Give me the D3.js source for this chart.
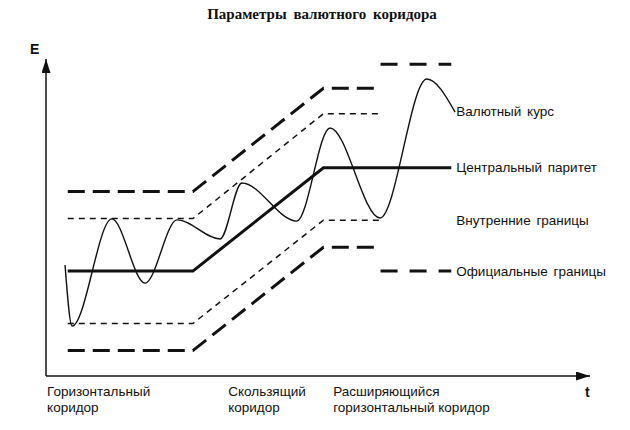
<!DOCTYPE html>
<html>
<head>
<meta charset="utf-8">
<script src="https://cdn.jsdelivr.net/npm/d3@7"></script>
<style>
  body { margin: 0; background: #fff; }
  svg { display: block; }
  text { font-family: "Liberation Sans", Arial, sans-serif; fill: #111; }
</style>
</head>
<body>
<svg id="chart" width="630" height="430"></svg>
<script>
// time (t) and rate (E) in arbitrary units
const regimeT = [4, 27, 51, 61.5, 74.5]
const parity = [33, 33, 65.5, 65.5]
const officialUpper = [58, 58, 90.5, 90.5]
const officialLower = [8, 8, 40.5, 40.5]
const innerUpper = [49.5, 49.5, 82.5, 82.5]
const innerLower = [16.5, 16.5, 49, 49]
const widenedOfficial = [98, 33] // third regime, upper and lower

const rateT = [3.5, 4.8, 12.1, 18.2, 24.1, 32.0, 36.0, 46.1, 52.2, 61.4, 70.0, 75.2]
const rateE = [34.9, 15.7, 49.4, 29.2, 49.1, 43.1, 60.7, 48.7, 78.0, 49.7, 93.4, 83.0]

const seriesLabels = ["Валютный курс", "Центральный паритет", "Внутренние границы", "Официальные границы"]
const seriesLabelE = [83.3, 65.5, 49, 33]
const regimeLabels = [["Горизонтальный", "коридор"], ["Скользящий", "коридор"], ["Расширяющийся", "горизонтальный  коридор"]]
const regimeLabelT = [0.2, 33.5, 52.8]

const svg = d3.select("#chart")
const x = d3.scaleLinear().domain([0, 100]).range([46, 590])
const y = d3.scaleLinear().domain([0, 100]).range([376, 58])

svg.append("text")
    .attr("x", 322).attr("y", 19)
    .attr("text-anchor", "middle")
    .style("font-family", "'Liberation Serif', 'Times New Roman', serif")
    .style("font-weight", "bold")
    .style("font-size", "15px")
    .style("word-spacing", "3px")
    .text("Параметры валютного коридора")

// arrow heads
const defs = svg.append("defs")
defs.append("marker")
    .attr("id", "arrow")
    .attr("viewBox", "0 0 14 9")
    .attr("refX", 14).attr("refY", 4.5)
    .attr("markerWidth", 14).attr("markerHeight", 9)
    .attr("markerUnits", "userSpaceOnUse")
    .attr("orient", "auto")
    .append("path").attr("d", "M0,0 L14,4.5 L0,9 Z").attr("fill", "#111")

const axisG = svg.append("g")
axisG.append("path")
    .attr("d", `M${x(0)},${y(0)} V${y(100) + 1}`)
    .attr("stroke", "#111").attr("stroke-width", 1.5).attr("fill", "none")
    .attr("marker-end", "url(#arrow)")
axisG.append("path")
    .attr("d", `M${x(0)},${y(0)} H${x(100)}`)
    .attr("stroke", "#111").attr("stroke-width", 1.5).attr("fill", "none")
    .attr("marker-end", "url(#arrow)")

axisG.append("text")
    .attr("x", x(0) - 16).attr("y", y(100) - 4)
    .style("font-weight", "bold").style("font-size", "14px")
    .text("E")
axisG.append("text")
    .attr("x", x(100) - 5).attr("y", y(0) + 21)
    .style("font-weight", "bold").style("font-size", "14px")
    .text("t")

const line = d3.line().x(d => x(d[0])).y(d => y(d[1]))
const corridor = vals => vals.map((v, i) => [regimeT[i], v])

const bands = [
    { vals: officialUpper, width: 3, dash: "17,8" },
    { vals: officialLower, width: 3, dash: "17,8" },
    { vals: innerUpper, width: 1.5, dash: "6,5" },
    { vals: innerLower, width: 1.5, dash: "6,5" }
]
svg.append("g").selectAll("path")
    .data(bands)
    .join("path")
    .attr("d", d => line(corridor(d.vals)))
    .attr("fill", "none")
    .attr("stroke", "#111")
    .attr("stroke-width", d => d.width)
    .attr("stroke-dasharray", d => d.dash)

svg.append("g").selectAll("path")
    .data(widenedOfficial)
    .join("path")
    .attr("d", d => line([[regimeT[3], d], [regimeT[4], d]]))
    .attr("fill", "none")
    .attr("stroke", "#111")
    .attr("stroke-width", 3)
    .attr("stroke-dasharray", "17,12")

// central parity: flat, sliding, then flat to the end of the third regime
const parityPts = [[regimeT[0], parity[0]], [regimeT[1], parity[1]], [regimeT[2], parity[2]], [regimeT[4], parity[3]]]
svg.append("path")
    .attr("d", line(parityPts))
    .attr("fill", "none")
    .attr("stroke", "#111")
    .attr("stroke-width", 3)

const rateLine = d3.line().x(d => x(d[0])).y(d => y(d[1])).curve(d3.curveMonotoneX)
svg.append("path")
    .attr("d", rateLine(rateT.map((t, i) => [t, rateE[i]])))
    .attr("fill", "none")
    .attr("stroke", "#111")
    .attr("stroke-width", 1.4)

svg.append("g").selectAll("text")
    .data(seriesLabels)
    .join("text")
    .attr("x", x(regimeT[4]) + 5)
    .attr("y", (d, i) => y(seriesLabelE[i]))
    .attr("dy", "0.35em")
    .style("font-size", "13.5px")
    .style("word-spacing", "2px")
    .text(d => d)

const regG = svg.append("g").selectAll("text")
    .data(regimeLabels)
    .join("text")
    .attr("x", (d, i) => x(regimeLabelT[i]))
    .attr("y", y(0) + 20)
    .style("font-size", "13.5px")
regG.selectAll("tspan")
    .data(d => d)
    .join("tspan")
    .attr("x", function() { return d3.select(this.parentNode).attr("x") })
    .attr("dy", (d, i) => i ? 16 : 0)
    .text(d => d)
</script>
</body>
</html>
